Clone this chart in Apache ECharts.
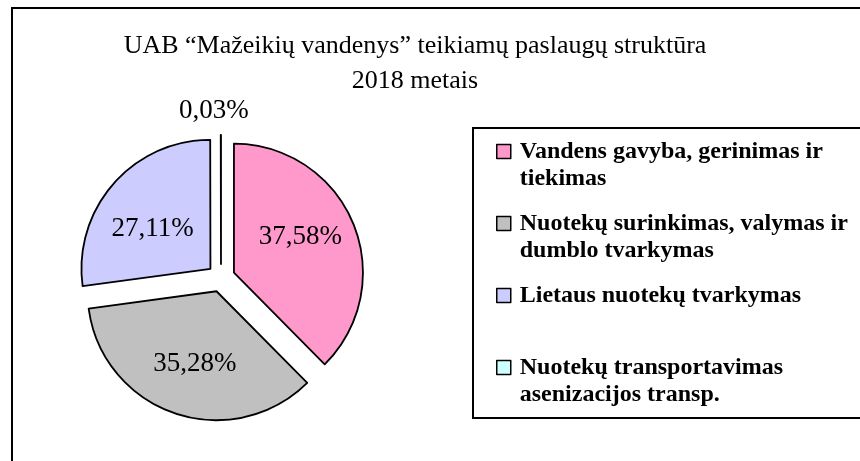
<!DOCTYPE html>
<html><head><meta charset="utf-8">
<script src="https://cdn.jsdelivr.net/npm/echarts@6/dist/echarts.min.js"></script>
<style>html,body{margin:0;padding:0;background:#fff}#c{width:860px;height:461px}</style>
</head><body><div id="c"></div>
<script>
const titleLines = ['UAB “Mažeikių vandenys” teikiamų paslaugų struktūra', '2018 metais'];
const categories = [
  'Vandens gavyba, gerinimas ir tiekimas',
  'Nuotekų surinkimas, valymas ir dumblo tvarkymas',
  'Lietaus nuotekų tvarkymas',
  'Nuotekų transportavimas asenizacijos transp.'
];
const legendLines = [
  ['Vandens gavyba, gerinimas ir', 'tiekimas'],
  ['Nuotekų surinkimas, valymas ir', 'dumblo tvarkymas'],
  ['Lietaus nuotekų tvarkymas', ' '],
  ['Nuotekų transportavimas', 'asenizacijos transp.']
];
const values = [37.58, 35.28, 27.11, 0.03];
const colors = ['#FF99CC', '#C0C0C0', '#CCCCFF', '#CCFFFF'];

const FONT = '"Times New Roman", "Liberation Serif", serif';
// label nudges (dx, dy) relative to ECharts' default placement
const labelShift = [[4, -10], [0, 9], [-7, 4], [33, 4]];

const chart = echarts.init(document.getElementById('c'), null, {renderer: 'canvas'});
const fmt = v => v.toFixed(2).replace('.', ',') + '%';

const data = categories.map((name, i) => {
  const isTiny = i === 3;
  return {
    name: name,
    value: values[i],
    selected: true,
    itemStyle: {color: colors[i]},
    select: {itemStyle: {color: colors[i], borderColor: '#000', borderWidth: 1.8}},
    label: {position: isTiny ? 'outside' : 'inside'},
    labelLine: {show: false, length: 28, length2: 0}
  };
});

chart.setOption({
  animation: false,
  backgroundColor: '#fff',
  title: {
    text: titleLines.join('\n'),
    left: 410,
    top: 24,
    textAlign: 'center',
    textStyle: {fontFamily: FONT, fontSize: 26, fontWeight: 'normal', color: '#000', lineHeight: 35}
  },
  graphic: [
    {type: 'rect', z: -10, shape: {x: 12, y: 8, width: 900, height: 500},
     style: {fill: 'none', stroke: '#000', lineWidth: 2}},
    {type: 'rect', z: -10, shape: {x: 473, y: 128, width: 500, height: 290},
     style: {fill: 'none', stroke: '#000', lineWidth: 2}}
  ],
  legend: {
    orient: 'vertical',
    left: 496,
    top: 111,
    padding: 0,
    itemWidth: 14,
    itemHeight: 14,
    itemGap: -9,
    icon: 'rect',
    selectedMode: false,
    itemStyle: {borderColor: '#000', borderWidth: 1.5},
    formatter: name => ' \n' + legendLines[categories.indexOf(name)].join('\n'),
    textStyle: {fontFamily: FONT, fontSize: 24, fontWeight: 'bold', color: '#000', lineHeight: 27, padding: [0, 0, 0, 4]},
    data: categories
  },
  series: [{
    type: 'pie',
    center: [221, 278],
    radius: 129,
    startAngle: 90,
    clockwise: true,
    selectedMode: 'multiple',
    selectedOffset: 14,
    avoidLabelOverlap: false,
    emphasis: {disabled: true},
    itemStyle: {borderColor: '#000', borderWidth: 1.8},
    label: {
      show: true,
      formatter: p => fmt(p.value),
      fontFamily: FONT,
      fontSize: 27,
      color: '#000'
    },
    labelLayout: p => ({dx: labelShift[p.dataIndex][0], dy: labelShift[p.dataIndex][1]}),
    data: data
  }]
});
</script>
</body></html>
